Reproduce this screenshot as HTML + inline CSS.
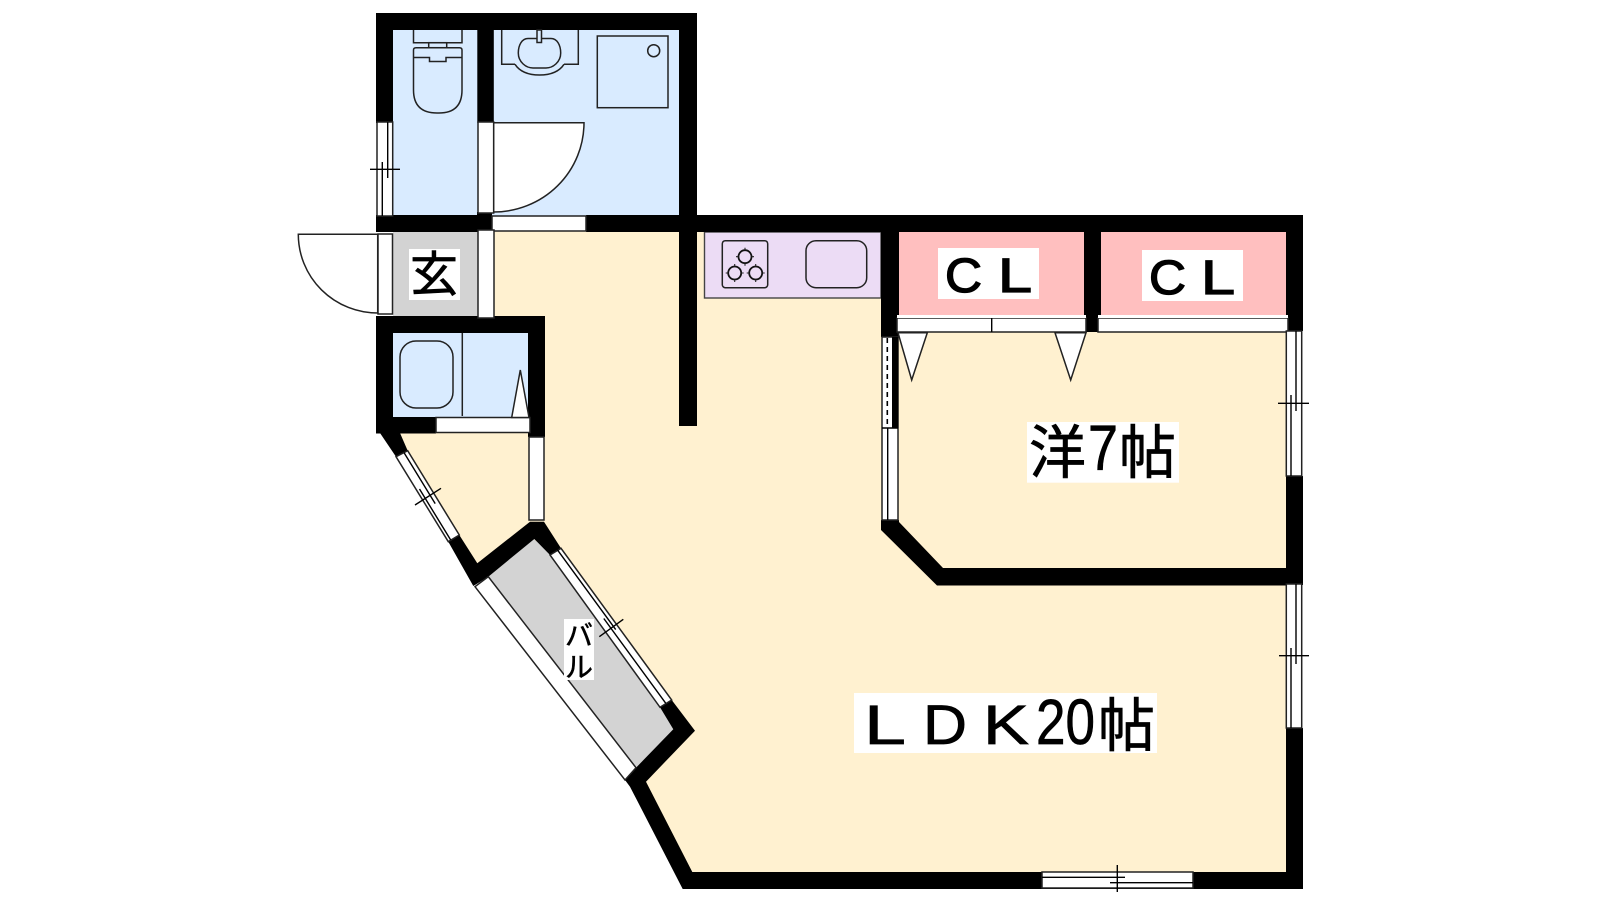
<!DOCTYPE html>
<html lang="ja"><head><meta charset="utf-8"><title>間取り図</title>
<style>html,body{margin:0;padding:0;background:#fff}svg{display:block}
.t{font-family:"Liberation Sans","Noto Sans CJK JP",sans-serif;fill:#000;stroke:#000;stroke-width:.7}
.b{stroke-width:1.3}
.l{stroke:#000;stroke-width:1.4;fill:none}
.w{stroke:#222;stroke-width:1.5;fill:#fff}
.g{stroke:#222;stroke-width:1.5;fill:none}
</style></head><body>
<svg width="1600" height="900" viewBox="0 0 1600 900" xmlns="http://www.w3.org/2000/svg">
<rect width="1600" height="900" fill="#fff"/>
<!-- floors -->
<polygon fill="#fff1d0" points="494,225 1295,225 1295,880 686,880 628,782 680,725 550,535 474,575 396,440 394,425 530,425 530,320 494,320"/>
<rect x="385" y="22" width="304" height="198" fill="#d9ebff"/>
<rect x="385" y="325" width="150" height="100" fill="#d9ebff"/>
<rect x="393" y="232" width="85" height="84" fill="#d3d3d3"/>
<rect x="899" y="232" width="185" height="84" fill="#ffbfbf"/>
<rect x="1100" y="232" width="186" height="84" fill="#ffbfbf"/>
<rect x="704.5" y="232" width="176.5" height="66" fill="#ecdcf5" stroke="#444" stroke-width="1.4"/>
<polygon fill="#d3d3d3" points="534,539 550,555 660,707 674,729 636,768 488,577"/>
<!-- walls -->
<g fill="#000">
<rect x="376" y="13" width="321" height="17"/>
<rect x="376" y="13" width="17" height="110"/>
<rect x="477.3" y="13" width="16.5" height="110"/>
<rect x="679" y="13" width="18" height="219"/>
<rect x="376" y="215" width="102" height="17"/>
<rect x="477" y="212" width="15" height="18"/>
<rect x="586" y="215" width="717" height="17"/>
<rect x="679" y="215" width="18" height="211"/>
<rect x="881" y="215" width="18" height="122"/>
<rect x="1084" y="215" width="17" height="100"/>
<rect x="1086" y="315" width="12.5" height="17"/>
<rect x="1286" y="215" width="17" height="116"/>
<rect x="1286" y="476" width="17" height="109"/>
<rect x="1286" y="728" width="17" height="161"/>
<rect x="376" y="316" width="169" height="17"/>
<rect x="376" y="316" width="17" height="117"/>
<rect x="528" y="316" width="17" height="121"/>
<rect x="376" y="417" width="60" height="16.5"/>
<polygon points="881,520 899,520 899,522 943,568 1286,568 1286,585.5 937,585.5 881,530"/>
<polygon points="376,433 400,433 407.7,450.7 396,456.7 380,433"/>
<polygon points="448.3,541.7 459.3,535 477.3,563.3 530,521.7 544,521.7 561,548.3 550,555 534.3,539 488.3,576.7 473.3,586"/>
<polygon points="671.7,700 695,730.7 646,781.7 692.3,872 1286,872 1286,889 682.7,889 630,786.7 625,780 636,767.7 673.3,729.3 660,707.3"/>
</g>
<!-- white window bands -->
<rect x="377" y="122" width="15.7" height="94" class="w"/>
<rect x="478" y="122" width="15.7" height="91" class="w"/>
<rect x="492" y="216" width="94" height="15" class="w"/>
<rect x="378" y="234" width="14.5" height="80" class="w"/>
<rect x="478" y="230" width="16" height="88" class="w"/>
<rect x="436" y="417.5" width="94" height="15" class="w"/>
<rect x="529" y="437" width="15" height="83" class="w"/>
<rect x="882" y="337" width="16" height="183" class="w"/>
<rect x="892" y="337" width="6.3" height="91" fill="#000"/>
<rect x="897" y="318" width="189" height="14" class="w"/>
<rect x="1098" y="318" width="190" height="14" class="w"/>
<rect x="897" y="315" width="189" height="3" fill="#fff"/>
<rect x="1098" y="315" width="190" height="3" fill="#fff"/>
<rect x="1286.3" y="331" width="15.4" height="145" class="w"/>
<rect x="1286.3" y="584" width="15.4" height="144" class="w"/>
<rect x="1042" y="872" width="151" height="16" class="w"/>
<polygon class="w" points="396,456.7 407.7,450.7 459.3,535 448.3,541.7"/>
<polygon class="w" points="550,555 561,548.3 671.7,700 660,707.3"/>
<polygon class="w" points="475,586.7 488.3,576.7 636,767.7 625,780"/>
<!-- window detail -->
<path class="l" d="M387.7 122V178M382.3 162V216M370 169.3H400"/>
<path class="l" d="M1296 331V411M1291 395V476M1278 403.3H1309"/>
<path class="l" d="M1296 584V664M1291 648V728M1279 655.7H1309"/>
<path class="l" d="M1042 877.3H1125M1110 882.7H1193M1117.3 865V892"/>
<path class="l" d="M404 452.6L435.2 503.6M419.5 489L450.7 540M415 505L441 488.3"/>
<path class="l" d="M557.3 549.7L615.7 629.6M603.8 618.5L665.7 703.2M599.3 636.7L623.3 619.3"/>
<path class="l" d="M882 428H898M887.7 428V520"/>
<path d="M887.3 338V428" stroke="#000" stroke-width="1.6" stroke-dasharray="5,4" fill="none"/>
<path class="l" d="M991.7 318V332"/>
<!-- doors -->
<path class="w" d="M493.7 122.7H584A90.3 89.3 0 0 1 493.7 212Z"/>
<path class="w" d="M377.7 234.3H298.3A79.4 78.7 0 0 0 377.7 313Z"/>
<polygon class="w" points="898,332.7 927.3,332.7 911.7,380"/>
<polygon class="w" points="1055,332.7 1086,332.7 1070.7,380"/>
<polygon class="w" points="511.7,417.5 520.3,370 529,417.5"/>
<!-- toilet -->
<g class="g">
<path d="M413.5 30V42.7H462V30"/>
<rect x="428.7" y="42.7" width="18" height="5"/>
<path d="M413.5 57.5V50Q413.5 47.7 416 47.7H459.5Q462 47.7 462 50V57.5H446V61.5H429.5V57.5H413.5V90Q413.5 113 437 113H439Q462 113 462 90V57.5"/>
</g>
<!-- sink -->
<g class="g">
<path d="M501.7 30V64.3H515M564 64.3H578.3V30"/>
<path d="M528 38.5H551C557 38.5 560.7 45 560.7 53C560.7 62 553 68 546 68H533C526 68 518.3 62 518.3 53C518.3 45 522 38.5 528 38.5Z"/>
<path d="M515 64.3Q522 75 539.5 75Q557 75 564 64.3"/>
<rect x="537" y="30" width="4.5" height="12.5" fill="#d9ebff"/>
<rect x="597.3" y="36" width="70.7" height="71.7"/>
<circle cx="653.7" cy="50.7" r="6"/>
</g>
<!-- bath -->
<g class="g">
<rect x="400" y="341" width="53" height="67" rx="16" ry="16"/>
<path d="M462.3 333V416"/>
</g>
<!-- kitchen -->
<g class="g">
<rect x="722.3" y="240.7" width="45.4" height="47" rx="3"/>
<rect x="806" y="240.7" width="60.7" height="47" rx="10"/>
<g stroke-width="1.8" stroke="#111">
<circle cx="745" cy="256.7" r="6.5"/>
<circle cx="734.7" cy="273" r="6.5"/>
<circle cx="755.7" cy="273" r="6.5"/>
</g>
<path stroke-width="1.1" d="M745 247.7V250.2M745 263.2V265.7M736 256.7H738.5M751.5 256.7H754M734.7 264V266.5M734.7 279.5V282M725.7 273H728.2M741.2 273H743.7M755.7 264V266.5M755.7 279.5V282M746.7 273H749.2M762.2 273H764.7"/>
</g>
<!-- label boxes -->
<g fill="#fff">
<rect x="409" y="249" width="51" height="51"/>
<rect x="938" y="248" width="101" height="51"/>
<rect x="1142" y="250" width="101" height="51"/>
<rect x="1027" y="422" width="152" height="60.7"/>
<rect x="854" y="693" width="303" height="60"/>
<rect x="564" y="619" width="30" height="61"/>
</g>
<!-- labels -->
<text class="t" x="434" y="291" font-size="48" text-anchor="middle">玄</text>
<text class="t b" x="945" y="292" font-size="48" textLength="37" lengthAdjust="spacingAndGlyphs">C</text>
<text class="t b" x="998" y="292" font-size="48" textLength="34" lengthAdjust="spacingAndGlyphs">L</text>
<text class="t b" x="1149" y="294" font-size="48" textLength="37" lengthAdjust="spacingAndGlyphs">C</text>
<text class="t b" x="1201" y="294" font-size="48" textLength="34" lengthAdjust="spacingAndGlyphs">L</text>
<text class="t" x="1029" y="473" font-size="58" textLength="57" lengthAdjust="spacingAndGlyphs">洋</text>
<text class="t" x="1088" y="470" font-size="64" textLength="30" lengthAdjust="spacingAndGlyphs">7</text>
<text class="t" x="1119" y="473" font-size="58" textLength="57" lengthAdjust="spacingAndGlyphs">帖</text>
<text class="t" x="864" y="744" font-size="56" textLength="42" lengthAdjust="spacingAndGlyphs">L</text>
<text class="t" x="923" y="744" font-size="56" textLength="44" lengthAdjust="spacingAndGlyphs">D</text>
<text class="t" x="983" y="744" font-size="56" textLength="46" lengthAdjust="spacingAndGlyphs">K</text>
<text class="t" x="1036" y="744" font-size="64" textLength="59" lengthAdjust="spacingAndGlyphs">20</text>
<text class="t" x="1098" y="746" font-size="58" textLength="57" lengthAdjust="spacingAndGlyphs">帖</text>
<text class="t" x="579" y="645" font-size="28" text-anchor="middle" style="stroke-width:.5">バ</text>
<text class="t" x="579" y="677" font-size="28" text-anchor="middle" style="stroke-width:.5">ル</text>
</svg>
</body></html>
